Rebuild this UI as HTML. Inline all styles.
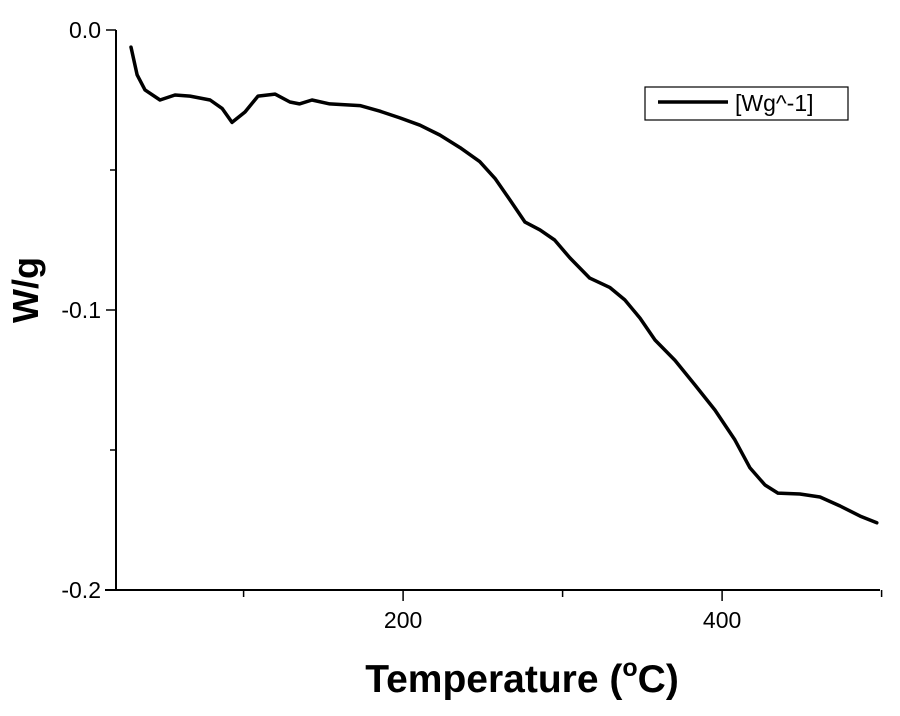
<!DOCTYPE html>
<html><head><meta charset="utf-8"><style>
html,body{margin:0;padding:0;background:#fff;}
svg{display:block;font-family:"Liberation Sans",Arial,sans-serif;}
</style></head><body>
<svg id="chart" width="900" height="716" viewBox="0 0 900 716">
<g id="axes"></g>
<path id="curve" fill="none" stroke="#000" stroke-width="3.5" stroke-linejoin="round" stroke-linecap="round"/>
<g>
<rect x="645" y="87" width="203" height="33" fill="#fff" stroke="#000" stroke-width="1.2"/>
<line x1="658" y1="102" x2="728" y2="102" stroke="#000" stroke-width="3.5"/>
<text x="735" y="111" font-size="23">[Wg^-1]</text>
</g>
<text transform="translate(38,290) rotate(-90)" text-anchor="middle" font-size="36" font-weight="bold">W/g</text>
<text x="522" y="692" text-anchor="middle" font-size="39" font-weight="bold">Temperature (<tspan font-size="25" dy="-16">o</tspan><tspan dy="16">C)</tspan></text>
</svg>
<script>
const temps=[29.4,33.2,38.2,47.6,57,66.4,79,86.5,92.7,100.9,109,119.7,129,135,142.9,154,173,185.5,198,210.6,223,235.7,248,257.6,267,276.4,285.8,295,304.6,317,329.7,339,348.5,357.9,370.5,383,395.5,408,417.5,426.9,435,448.8,461.4,474,486.5,497];
const heatFlow=[-0.0061,-0.016,-0.0214,-0.025,-0.0232,-0.0236,-0.025,-0.028,-0.033,-0.0293,-0.0236,-0.0229,-0.0257,-0.0264,-0.025,-0.0264,-0.027,-0.029,-0.0314,-0.034,-0.0375,-0.042,-0.047,-0.053,-0.0607,-0.0686,-0.0714,-0.075,-0.0814,-0.0886,-0.092,-0.0964,-0.1029,-0.1107,-0.118,-0.1268,-0.1357,-0.1464,-0.1564,-0.1625,-0.1654,-0.1657,-0.1668,-0.17,-0.1736,-0.176];
const xMajorTicks=[200,400];
const xMinorTicks=[100,300,500];
const yMajorTicks=[0,-0.1,-0.2];
const yTickLabels=["0.0","-0.1","-0.2"];
const yMinorTicks=[-0.05,-0.15];
const X=v=>116+(v-20)*1.595;
const Y=v=>30-v*2800;
const ns="http://www.w3.org/2000/svg";
const ax=document.getElementById('axes');
function mk(t,a,txt){const e=document.createElementNS(ns,t);for(const k in a)e.setAttribute(k,a[k]);if(txt!==undefined)e.textContent=txt;ax.appendChild(e);return e;}
let e;
e=mk('line',{x1:116,y1:30,x2:116,y2:590,stroke:'#000','stroke-width':2});


e=mk('line',{x1:105,y1:590,x2:880,y2:590,stroke:'#000','stroke-width':2});


xMajorTicks.forEach(v=>{
 e=mk('line',{x1:X(v),y1:590,x2:X(v),y2:601,stroke:'#000','stroke-width':1.5});
 
 
 e=mk('text',{x:X(v),y:628,'text-anchor':'middle','font-size':23},String(v));
 
 
});
xMinorTicks.forEach(v=>{
 e=mk('line',{x1:X(v),y1:590,x2:X(v),y2:597,stroke:'#000','stroke-width':1.5});
 
 
});
yMajorTicks.forEach((v,i)=>{
 e=mk('line',{x1:106,y1:Y(v),x2:116,y2:Y(v),stroke:'#000','stroke-width':1.5});
 
 
 e=mk('text',{x:101,y:Y(v)+8,'text-anchor':'end','font-size':23},yTickLabels[i]);
 
 
});
yMinorTicks.forEach(v=>{
 e=mk('line',{x1:110,y1:Y(v),x2:116,y2:Y(v),stroke:'#000','stroke-width':1.5});
 
 
});
document.getElementById('curve').setAttribute('d',temps.map((t,i)=>(i?'L':'M')+X(t).toFixed(1)+' '+Y(heatFlow[i]).toFixed(1)).join(' '));
</script>
</body></html>
